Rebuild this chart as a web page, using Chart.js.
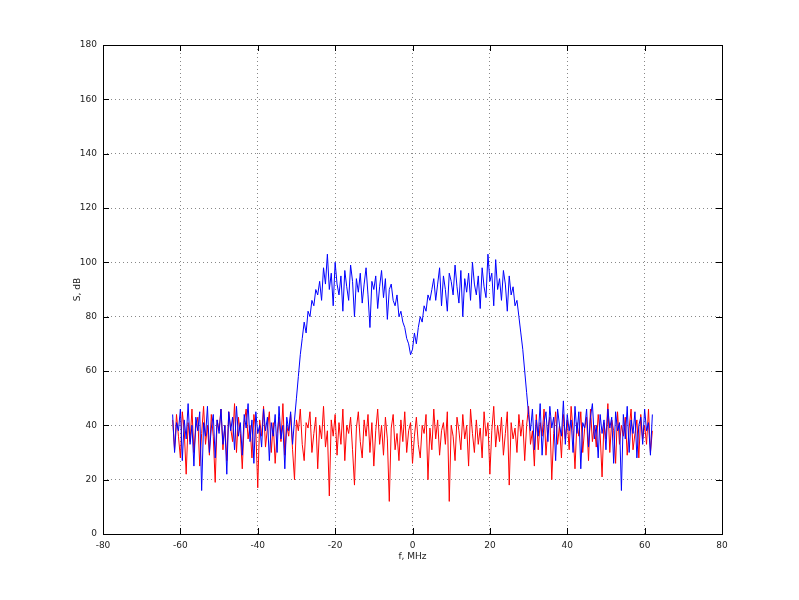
<!DOCTYPE html>
<html><head><meta charset="utf-8">
<script src="https://cdn.jsdelivr.net/npm/chart.js@4"></script>
<style>html,body{margin:0;padding:0;background:#fff}#c{display:block}</style>
</head><body>
<canvas id="c" width="799" height="600"></canvas>
<script>
const fStart = -62, fStep = 0.5;
const xTicks = [-80,-60,-40,-20,0,20,40,60,80];
const yTicks = [0,20,40,60,80,100,120,140,160,180];
const xTitle = 'f, MHz', yTitle = 'S, dB';
const blue = [
44,30,41,38,46,27,42,35,48,33,40,25,43,38,45,16,41,36,47,30,39,44,28,42,37,46,33,40,22,45,38,43,31,47,36,41,29,44,39,48,34,42,26,45,37,40,32,46,38,43,27,41,36,44,30,47,35,40,24,43,38,45,33,42,
50,58,66,72,
78,74,82,80,86,84,90,88,93,86,98,92,
103,90,96,84,100,92,88,95,82,97,91,86,99,93,80,94,89,96,85,92,98,88,76,93,90,95,83,91,97,87,94,79,90,92,
86,84,88,80,82,78,76,72,70,66,68,74,70,76,80,78,84,82,88,86,90,
94,86,92,98,84,95,90,82,96,93,88,99,91,85,97,80,94,89,96,86,100,92,88,95,83,98,91,87,103,93,96,84,101,90,94,86,97,92,82,95,88,91,84,86,80,
74,68,60,52,
44,38,46,31,42,36,48,29,41,45,34,47,39,43,27,46,40,36,49,33,44,38,42,30,47,37,45,24,41,39,46,32,43,48,35,40,28,44,37,42,31,46,39,43,26,45,38,41,16,44,35,47,30,42,37,45,28,40,43,33,46,38,41,29,44];
const red = [
42,31,44,36,28,45,38,22,41,34,46,30,39,43,25,37,47,33,40,29,44,36,19,42,38,46,31,40,27,45,
39,34,48,30,43,37,24,41,46,35,40,28,44,38,17,42,36,47,32,39,45,30,41,26,37,43,34,48,29,40,
36,44,31,20,42,38,46,33,27,41,39,45,30,37,43,24,40,35,47,32,38,14,42,36,44,29,41,33,46,27,
40,37,43,31,18,39,45,34,28,42,36,44,30,41,25,38,46,33,40,29,43,35,12,39,44,31,37,27,42,34,
45,30,38,41,26,36,43,33,28,40,37,44,20,39,31,46,35,42,29,38,41,33,45,12,40,36,27,43,38,31,
44,35,40,25,46,37,30,42,33,39,28,45,36,41,22,38,47,32,40,34,43,29,37,45,18,41,35,39,30,44,
36,42,27,40,47,33,38,25,44,31,41,36,46,29,39,43,20,37,45,33,40,28,44,35,42,31,47,38,24,41,
36,45,30,39,43,27,46,34,40,32,44,37,21,41,35,48,30,42,38,26,45,33,40,36,43,29,39,46,31,37,
42,28,44,35,40,33,46,30,38];
const toXY = arr => arr.map((v,i)=>({x:fStart+i*fStep,y:v}));
const font = {family:'DejaVu Sans', size:9};
const boxPlugin = {id:'box', afterDraw(ch){const a=ch.chartArea,c=ch.ctx;c.save();c.strokeStyle='#000';c.lineWidth=1;
 c.strokeRect(Math.round(a.left)+0.5,Math.round(a.top)+0.5,Math.round(a.right-a.left),Math.round(a.bottom-a.top));
 const xs=ch.scales.x, ys=ch.scales.y; c.beginPath();
 xTicks.forEach(t=>{const p=Math.round(xs.getPixelForValue(t))+0.5;c.moveTo(p,a.bottom);c.lineTo(p,a.bottom-6);c.moveTo(p,a.top);c.lineTo(p,a.top+6);});
 yTicks.forEach(t=>{const p=Math.round(ys.getPixelForValue(t))+0.5;c.moveTo(a.left,p);c.lineTo(a.left+6,p);c.moveTo(a.right,p);c.lineTo(a.right-6,p);});
 c.stroke();
 c.fillStyle='#222';c.font='9px "DejaVu Sans"';c.textAlign='center';c.textBaseline='middle';
 c.fillText(xTitle,(a.left+a.right)/2,557);
 c.translate(78,(a.top+a.bottom)/2);c.rotate(-Math.PI/2);c.fillText(yTitle,0,0);
 c.restore();}};
new Chart(document.getElementById('c'),{
 type:'line',
 data:{datasets:[
  {data:toXY(blue),borderColor:'#0000ff',borderWidth:1,pointRadius:0,tension:0},
  {data:toXY(red),borderColor:'#ff0000',borderWidth:1,pointRadius:0,tension:0}]},
 options:{responsive:false,animation:false,events:[],
  layout:{padding:{left:0,right:77,top:45,bottom:0}},
  plugins:{legend:{display:false},tooltip:{enabled:false}},
  scales:{
   x:{type:'linear',min:-80,max:80,afterBuildTicks:s=>{s.ticks=xTicks.map(v=>({value:v}));},
      afterFit:s=>{s.height=66;},
      grid:{color:'#888',drawTicks:false,lineWidth:1},border:{display:false,dash:[1,3]},
      ticks:{font,color:'#222',padding:6,maxRotation:0}},
   y:{type:'linear',min:0,max:180,afterBuildTicks:s=>{s.ticks=yTicks.map(v=>({value:v}));},
      afterFit:s=>{s.width=103;},
      grid:{color:'#888',drawTicks:false,lineWidth:1},border:{display:false,dash:[1,3]},
      ticks:{font,color:'#222',padding:6}}
  }},
 plugins:[boxPlugin]});
</script>
</body></html>
